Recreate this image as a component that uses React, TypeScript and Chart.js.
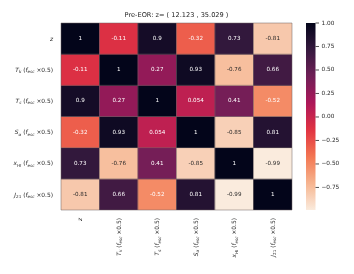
import React, { useEffect, useRef } from 'react';
import { Chart, registerables } from 'chart.js';
Chart.register(...registerables);

const TITLE = 'Pre-EOR: z= ( 12.123 , 35.029 )';
const varLabels = [
  '$z$',
  '$T_k$ ($f_{esc}$ ×0.5)',
  '$T_s$ ($f_{esc}$ ×0.5)',
  '$S_α$ ($f_{esc}$ ×0.5)',
  '$x_{HI}$ ($f_{esc}$ ×0.5)',
  '$J_{21}$ ($f_{esc}$ ×0.5)',
];
const rowZ = [1, -0.11, 0.9, -0.32, 0.73, -0.81];
const rowTk = [-0.11, 1, 0.27, 0.93, -0.76, 0.66];
const rowTs = [0.9, 0.27, 1, 0.054, 0.41, -0.52];
const rowSa = [-0.32, 0.93, 0.054, 1, -0.85, 0.81];
const rowXhi = [0.73, -0.76, 0.41, -0.85, 1, -0.99];
const rowJ21 = [-0.81, 0.66, -0.52, 0.81, -0.99, 1];
const matrix = [rowZ, rowTk, rowTs, rowSa, rowXhi, rowJ21];
const colorbarTicks = [1, 0.75, 0.5, 0.25, 0, -0.25, -0.5, -0.75];
const VMIN = -0.99;
const VMAX = 1;

// seaborn "rocket" colormap anchor points (position, colour)
const rocketStops: [number, string][] = [
  [0, '#03051a'],
  [1 / 7, '#35193e'],
  [2 / 7, '#701f57'],
  [3 / 7, '#ad1759'],
  [4 / 7, '#e13342'],
  [5 / 7, '#f37651'],
  [6 / 7, '#f6b48f'],
  [1, '#faebdd'],
];

function hexToRgb(h: string) {
  const n = parseInt(h.slice(1), 16);
  return [(n >> 16) & 255, (n >> 8) & 255, n & 255];
}
function rocket(t: number) {
  t = Math.max(0, Math.min(1, t));
  for (let i = 0; i < rocketStops.length - 1; i++) {
    const [p0, c0] = rocketStops[i];
    const [p1, c1] = rocketStops[i + 1];
    if (t <= p1) {
      const f = (t - p0) / (p1 - p0);
      const a = hexToRgb(c0), b = hexToRgb(c1);
      const c = a.map((v, k) => Math.round(v + (b[k] - v) * f));
      return { rgb: c, css: `rgb(${c[0]},${c[1]},${c[2]})` };
    }
  }
  const c = hexToRgb('#faebdd');
  return { rgb: c, css: `rgb(${c[0]},${c[1]},${c[2]})` };
}
// rocket_r
function cmap(v: number) {
  const t = (v - VMIN) / (VMAX - VMIN);
  return rocket(1 - t);
}
function lum(rgb: number[]) {
  const f = rgb.map((c) => {
    const s = c / 255;
    return s <= 0.03928 ? s / 12.92 : Math.pow((s + 0.055) / 1.055, 2.4);
  });
  return 0.2126 * f[0] + 0.7152 * f[1] + 0.0722 * f[2];
}
function fmt(v: number) {
  return String(Number(v.toPrecision(2)));
}

const FONT = '"DejaVu Sans"';

type Part = { t: string; it: boolean; sub: boolean };
function parseMath(s: string): Part[] {
  const parts: Part[] = [];
  let math = false;
  let i = 0;
  const push = (t: string, it: boolean, sub: boolean) => {
    const last = parts[parts.length - 1];
    if (last && last.it === it && last.sub === sub) last.t += t;
    else parts.push({ t, it, sub });
  };
  while (i < s.length) {
    const ch = s[i];
    if (ch === '$') { math = !math; i++; continue; }
    if (math && ch === '_') {
      i++;
      let sub = '';
      if (s[i] === '{') {
        i++;
        while (s[i] !== '}') { sub += s[i]; i++; }
        i++;
      } else { sub = s[i]; i++; }
      for (const c of sub) push(c, /[A-Za-zα-ω]/.test(c), true);
      continue;
    }
    push(ch, math && /[A-Za-zα-ω]/.test(ch), false);
    i++;
  }
  return parts;
}
function partFont(p: Part, size: number) {
  const sz = p.sub ? size * 0.7 : size;
  return `${p.it ? 'italic ' : ''}${sz}px ${FONT}`;
}
function richWidth(ctx: CanvasRenderingContext2D, parts: Part[], size: number) {
  let w = 0;
  for (const p of parts) { ctx.font = partFont(p, size); w += ctx.measureText(p.t).width; }
  return w;
}
// draws with alphabetic baseline at y, starting at x
function drawRich(ctx: CanvasRenderingContext2D, parts: Part[], x: number, y: number, size: number) {
  ctx.textBaseline = 'alphabetic';
  ctx.textAlign = 'left';
  for (const p of parts) {
    ctx.font = partFont(p, size);
    ctx.fillText(p.t, x, p.sub ? y + size * 0.22 : y);
    x += ctx.measureText(p.t).width;
  }
}

const LABEL_SIZE = 5.9;
const ANNOT_SIZE = 5.6;

const heatPlugin = {
  id: 'heatExtras',
  afterDatasetsDraw(chart: any) {
    const ctx: CanvasRenderingContext2D = chart.ctx;
    const xs = chart.scales.x;
    const ys = chart.scales.y;
    const n = varLabels.length;
    const cw = (chart.chartArea.right - chart.chartArea.left) / n;
    ctx.save();
    // cell separators
    ctx.strokeStyle = 'rgba(110,100,100,0.85)';
    ctx.lineWidth = 0.6;
    const { left, right, top, bottom } = chart.chartArea;
    for (let k = 0; k <= n; k++) {
      const xp = left + k * cw;
      ctx.beginPath(); ctx.moveTo(xp, top); ctx.lineTo(xp, bottom); ctx.stroke();
      const yp = ys.getPixelForValue(k);
      ctx.beginPath(); ctx.moveTo(left, yp); ctx.lineTo(right, yp); ctx.stroke();
    }
    // annotations
    ctx.textAlign = 'center';
    ctx.textBaseline = 'middle';
    ctx.font = `${ANNOT_SIZE}px ${FONT}`;
    matrix.forEach((row, i) => {
      row.forEach((v, j) => {
        const cx = xs.getPixelForValue(j);
        const cy = ys.getPixelForValue(i + 0.5);
        const c = cmap(v);
        ctx.fillStyle = lum(c.rgb) > 0.408 ? '#262626' : '#ffffff';
        ctx.fillText(fmt(v), cx, cy);
      });
    });
    ctx.restore();
  },
  afterDraw(chart: any) {
    const ctx: CanvasRenderingContext2D = chart.ctx;
    const xs = chart.scales.x;
    const ys = chart.scales.y;
    const { left, right, top, bottom } = chart.chartArea;
    ctx.save();
    ctx.fillStyle = '#262626';
    // title
    ctx.font = `${6.6}px ${FONT}`;
    ctx.textAlign = 'center';
    ctx.textBaseline = 'middle';
    ctx.fillText(TITLE, (left + right) / 2, 15);
    // y labels
    varLabels.forEach((lab, i) => {
      const parts = parseMath(lab);
      const w = richWidth(ctx, parts, LABEL_SIZE);
      const cy = ys.getPixelForValue(i + 0.5);
      ctx.fillStyle = '#262626';
      drawRich(ctx, parts, left - 8 - w, cy + LABEL_SIZE * 0.36, LABEL_SIZE);
    });
    // x labels rotated
    varLabels.forEach((lab, j) => {
      const parts = parseMath(lab);
      const w = richWidth(ctx, parts, LABEL_SIZE);
      const cx = xs.getPixelForValue(j);
      ctx.save();
      ctx.translate(cx, bottom + 8);
      ctx.rotate(-Math.PI / 2);
      ctx.fillStyle = '#262626';
      drawRich(ctx, parts, -w, LABEL_SIZE * 0.36, LABEL_SIZE);
      ctx.restore();
    });
    // colorbar
    const cbL = 306, cbR = 315.5;
    const yOf = (v: number) => top + ((VMAX - v) / (VMAX - VMIN)) * (bottom - top);
    const g = ctx.createLinearGradient(0, top, 0, bottom);
    for (let k = 0; k <= 40; k++) {
      const t = k / 40;
      g.addColorStop(t, rocket(t).css);
    }
    ctx.fillStyle = g;
    ctx.fillRect(cbL, top, cbR - cbL, bottom - top);
    ctx.strokeStyle = '#262626';
    ctx.lineWidth = 0.8;
    ctx.fillStyle = '#262626';
    ctx.font = `${5.8}px ${FONT}`;
    ctx.textAlign = 'left';
    ctx.textBaseline = 'middle';
    colorbarTicks.forEach((v) => {
      const yp = yOf(v);
      ctx.beginPath(); ctx.moveTo(cbR, yp); ctx.lineTo(cbR + 3.5, yp); ctx.stroke();
      const s = v.toFixed(2).replace('-', '\u2212');
      ctx.fillText(s, cbR + 6, yp);
    });
    ctx.restore();
  },
};

export default function App() {
  const ref = useRef<HTMLCanvasElement>(null);
  useEffect(() => {
    if (!ref.current) return;
    const chart = new Chart(ref.current, {
      type: 'bar',
      data: {
        labels: varLabels,
        datasets: matrix.map((row, i) => ({
          label: varLabels[i],
          data: row.map(() => [i, i + 1]),
          backgroundColor: row.map((v) => cmap(v).css),
          borderWidth: 0,
          grouped: false,
          barPercentage: 1,
          categoryPercentage: 1,
        })) as any,
      },
      options: {
        responsive: false,
        animation: false,
        layout: { padding: { left: 61, top: 23, right: 62, bottom: 64 } },
        plugins: { legend: { display: false }, tooltip: { enabled: false }, title: { display: false } },
        scales: {
          x: { type: 'category', display: false, offset: true },
          y: { type: 'linear', display: false, min: 0, max: 6, reverse: true },
        },
      },
      plugins: [heatPlugin],
    });
    return () => chart.destroy();
  }, []);
  return (
    <div style={{ position: 'absolute', left: 0, top: 0, width: 354, height: 274, background: '#fff' }}>
      <canvas ref={ref} width={354} height={274} style={{ width: 354, height: 274, display: 'block' }} />
    </div>
  );
}
